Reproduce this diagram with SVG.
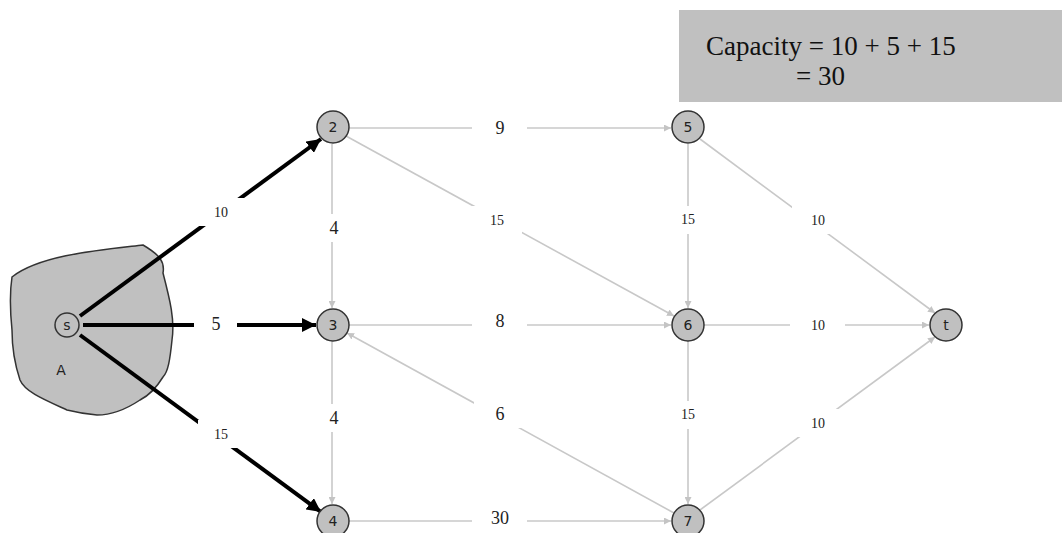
<svg xmlns="http://www.w3.org/2000/svg" width="1062" height="533" viewBox="0 0 1062 533">
  <defs>
    <marker id="arrGray" viewBox="0 0 10 10" refX="10" refY="5" markerWidth="7" markerHeight="7" markerUnits="userSpaceOnUse" orient="auto">
      <path d="M0,0 L10,5 L0,10 z" fill="#c4c4c4"/>
    </marker>
    <marker id="arrBlack" viewBox="0 0 10 10" refX="10" refY="5" markerWidth="14" markerHeight="14" markerUnits="userSpaceOnUse" orient="auto">
      <path d="M0,0 L10,5 L0,10 z" fill="#000"/>
    </marker>
  </defs>
  <style>
    .e { stroke: #c8c8c8; stroke-width: 1.6; fill: none; marker-end: url(#arrGray); }
    .eba { stroke: #000; stroke-width: 4; fill: none; marker-end: url(#arrBlack); }
    .n { fill: #c0c0c0; stroke: #333; stroke-width: 1.5; }
    .nt { font-family: "DejaVu Sans", "Liberation Sans", sans-serif; font-size: 14px; fill: #222; text-anchor: middle; dominant-baseline: central; }
    .lb { fill: #fff; }
    .lt { font-family: "Liberation Serif", "DejaVu Serif", serif; font-size: 18px; fill: #222; text-anchor: middle; dominant-baseline: central; }
    .ls { font-size: 14px; }
    .cap { font-family: "Liberation Serif", "DejaVu Serif", serif; font-size: 27px; fill: #111; }
  </style>
  <rect width="1062" height="533" fill="#fff"/>

  <!-- capacity summary box -->
  <g id="capacity">
    <rect x="679" y="10" width="383" height="92" fill="#c0c0c0"/>
    <text class="cap" x="706" y="55">Capacity = 10 + 5 + 15</text>
    <text class="cap" x="796" y="85">= 30</text>
  </g>

  <!-- cut region A around the source -->
  <g id="regionA">
    <path d="M12,277 C40,255 100,250 143,245 C160,255 165,262 163,273 C170,300 175,320 172,340 C170,360 168,372 163,377 C155,390 148,396 140,400 C125,410 110,415 97,415 C85,414 75,412 67,410 C45,400 25,392 20,380 C15,365 12,350 12,330 C10,310 10,290 12,277 z" fill="#c0c0c0" stroke="#333" stroke-width="1.5"/>
    <text x="61" y="370" class="nt">A</text>
  </g>

  <!-- connectors -->
  <g id="connectors">
    <line class="e" x1="348" y1="128" x2="671" y2="128"/>
    <line class="e" x1="346" y1="136" x2="674" y2="316"/>
    <line class="e" x1="332" y1="144" x2="332" y2="308"/>
    <line class="e" x1="688" y1="144" x2="688" y2="308"/>
    <line class="e" x1="700" y1="139" x2="935" y2="313"/>
    <line class="e" x1="348" y1="325" x2="671" y2="325"/>
    <line class="e" x1="704" y1="325" x2="929" y2="325"/>
    <line class="e" x1="332" y1="341" x2="332" y2="504"/>
    <line class="e" x1="674" y1="513" x2="347" y2="333"/>
    <line class="e" x1="688" y1="341" x2="688" y2="504"/>
    <line class="e" x1="700" y1="510" x2="935" y2="337"/>
    <line class="e" x1="348" y1="521" x2="671" y2="521"/>
    <line class="eba" x1="80" y1="316" x2="321" y2="139"/>
    <line class="eba" x1="83" y1="325" x2="316" y2="325"/>
    <line class="eba" x1="80" y1="335" x2="321" y2="512"/>

    <!-- capacity labels -->
    <rect class="lb" x="472" y="114" width="55" height="28"/><text class="lt" x="500" y="128">9</text>
    <rect class="lb" x="472" y="206" width="50" height="28"/><text class="lt ls" x="497" y="220">15</text>
    <rect class="lb" x="318" y="214" width="28" height="28"/><text class="lt" x="334" y="228">4</text>
    <rect class="lb" x="674" y="206" width="28" height="28"/><text class="lt ls" x="688" y="219">15</text>
    <rect class="lb" x="792" y="206" width="52" height="28"/><text class="lt ls" x="818" y="220">10</text>
    <rect class="lb" x="472" y="310" width="55" height="28"/><text class="lt" x="500" y="321">8</text>
    <rect class="lb" x="790" y="311" width="55" height="28"/><text class="lt ls" x="818" y="325">10</text>
    <rect class="lb" x="318" y="404" width="28" height="28"/><text class="lt" x="334" y="418">4</text>
    <rect class="lb" x="474" y="400" width="52" height="28"/><text class="lt" x="500" y="414">6</text>
    <rect class="lb" x="674" y="401" width="28" height="28"/><text class="lt ls" x="688" y="414">15</text>
    <rect class="lb" x="792" y="409" width="52" height="28"/><text class="lt ls" x="818" y="423">10</text>
    <rect class="lb" x="472" y="507" width="55" height="28"/><text class="lt" x="500" y="518">30</text>
    <rect class="lb" x="198" y="198" width="46" height="28"/><text class="lt ls" x="221" y="212">10</text>
    <rect class="lb" x="194" y="311" width="43" height="28"/><text class="lt" x="216" y="324">5</text>
    <rect class="lb" x="198" y="420" width="46" height="28"/><text class="lt ls" x="221" y="434">15</text>
  </g>

  <!-- nodes -->
  <g id="node-s"><circle class="n" cx="67" cy="325" r="12"/><text class="nt" x="67" y="325">s</text></g>
  <g id="node-2"><circle class="n" cx="333" cy="127" r="16"/><text class="nt" x="333" y="127">2</text></g>
  <g id="node-3"><circle class="n" cx="333" cy="325" r="16"/><text class="nt" x="333" y="325">3</text></g>
  <g id="node-4"><circle class="n" cx="333" cy="521" r="16"/><text class="nt" x="333" y="521">4</text></g>
  <g id="node-5"><circle class="n" cx="688" cy="127" r="16"/><text class="nt" x="688" y="127">5</text></g>
  <g id="node-6"><circle class="n" cx="688" cy="325" r="16"/><text class="nt" x="688" y="325">6</text></g>
  <g id="node-7"><circle class="n" cx="688" cy="521" r="16"/><text class="nt" x="688" y="521">7</text></g>
  <g id="node-t"><circle class="n" cx="946" cy="325" r="16"/><text class="nt" x="946" y="325">t</text></g>
</svg>
